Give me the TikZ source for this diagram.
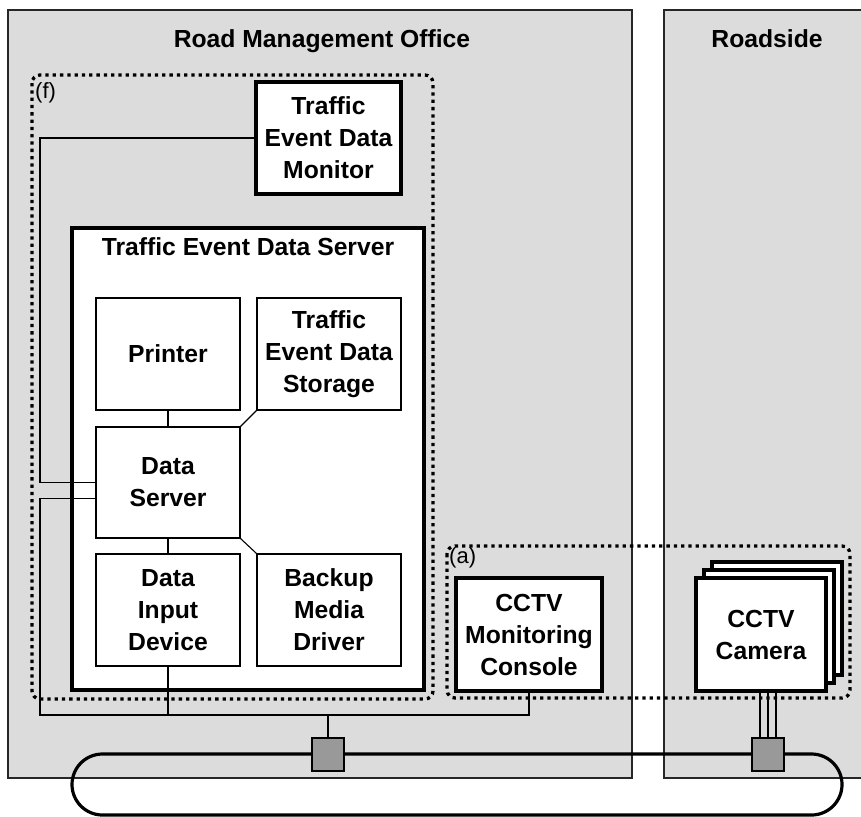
\documentclass[tikz,border=0pt]{standalone}
\usepackage{fontspec}
\setmainfont{Liberation Sans}
\usetikzlibrary{calc}
\definecolor{panelgray}{HTML}{DCDCDC}
\definecolor{switchgray}{HTML}{999999}
\begin{document}
\begin{tikzpicture}[x=1pt,y=-1pt,
  lbl/.style={font=\fontsize{24.7}{32}\selectfont\bfseries, align=center, inner sep=0pt},
  unit/.style={lbl, draw, fill=white, line width=1.1pt, minimum width=144pt, minimum height=112pt},
  major/.style={unit, line width=3.2pt},
  wire/.style={line width=1.1pt},
  ring/.style={line width=3.2pt},
  grouping/.style={line width=3.3pt, dash pattern=on 3.3pt off 4pt, rounded corners=8pt},
  tag/.style={font=\fontsize{22}{26}\selectfont, inner sep=0pt, anchor=base west},
  hub/.style={draw, fill=switchgray, line width=1.1pt, minimum width=32pt, minimum height=33pt, inner sep=0pt},
  panel/.style={fill=panelgray, draw=black!85, line width=1.1pt}
]
\useasboundingbox (0,0) rectangle (861,816);

% site panels
\fill[panelgray] (664,10) rectangle (861,778);
\draw[black!85, line width=1.1pt] (861,10) -- (664,10) -- (664,778) -- (861,778);
\draw[panel] (8,10) rectangle (632,778);
\node[lbl, anchor=base] (office) at (322,48) {Road Management Office};
\node[lbl, anchor=base] (roadside) at (767,48) {Roadside};

% traffic event data server and its parts
\node[major, minimum width=352pt, minimum height=462pt] (tserver) at (248,459) {};
\node[lbl, anchor=base] (tstitle) at (248,255) {Traffic Event Data Server};
\node[unit] (printer) at (168,354) {Printer};
\node[unit] (storage) at (329,354) {Traffic\\Event Data\\Storage};
\node[unit, minimum height=111pt] (dserver) at (168,482.5) {Data\\Server};
\node[unit] (dinput) at (168,610) {Data\\Input\\Device};
\node[unit] (backup) at (329,610) {Backup\\Media\\Driver};

% monitor, console and cameras
\node[major, minimum width=145pt] (monitor) at (328.5,138) {Traffic\\Event Data\\Monitor};
\node[major, minimum width=146pt, minimum height=113pt] (console) at (529,634.5) {CCTV\\Monitoring\\Console};
\node[major, minimum width=130pt, minimum height=113pt] (cam3) at (777,618.5) {};
\node[major, minimum width=130pt, minimum height=113pt] (cam2) at (769,626.5) {};
\node[major, minimum width=130pt, minimum height=113pt] (cam) at (761,634.5) {CCTV\\Camera};

% backbone ring, drawn under the switches
\draw[ring, rounded corners=30.5pt] (72,754) rectangle (842,815);

% network switches
\node[hub] (sw1) at (328,754.5) {};
\node[hub] (sw2) at (768,754.5) {};

% internal links of the server
\draw[wire] (printer.south) -- (dserver.north);
\draw[wire] (dserver.north east) -- (storage.south west);
\draw[wire] (dserver.south) -- (dinput.north);
\draw[wire] (dserver.south east) -- (backup.north west);

% office LAN
\coordinate (busW) at (40,715);
\draw[wire] (monitor.west) -| (busW |- dserver.west) -- (dserver.west);
\draw[wire] ([yshift=-16pt]dserver.west) -| (busW) -| (console.south);
\draw[wire] (dinput.south) -- (dinput.south |- busW);
\draw[wire] (sw1.north) -- (sw1.north |- busW);
\foreach \dx in {-8,0,8}
  \draw[wire] ([xshift=\dx pt]sw2.north) -- ([xshift=\dx pt]sw2.north |- cam.south);

% dotted groupings
\draw[grouping] (32,75) rectangle (433,699);
\draw[grouping] (447,546) rectangle (850,698);
\node[tag] (tagf) at (35,98) {(f)};
\node[tag] (taga) at (449,563) {(a)};
\end{tikzpicture}
\end{document}
